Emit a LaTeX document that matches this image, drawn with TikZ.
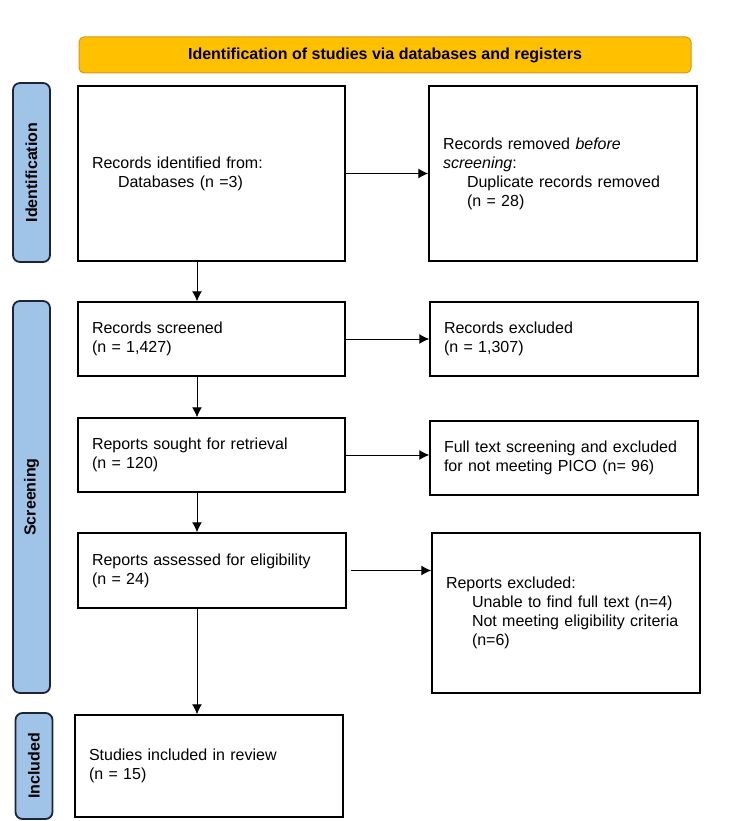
\documentclass[tikz,border=0pt]{standalone}
\usepackage{fontspec}
\setmainfont{Liberation Sans}
\usetikzlibrary{arrows.meta}

\newlength{\du}
\setlength{\du}{1pt}

\definecolor{bannerfill}{RGB}{255,192,0}
\definecolor{bannerline}{RGB}{214,152,24}
\definecolor{phasefill}{RGB}{160,196,232}
\definecolor{phaseline}{RGB}{28,36,56}

\tikzset{
  stage/.style 2 args={draw=black, line width=1.5pt, fill=white,
    minimum width=#1, minimum height=#2, text width=#1-28pt,
    inner xsep=14pt, inner ysep=0pt, align=left,
    font=\fontsize{16}{19}\selectfont},
  phase/.style={draw=phaseline, line width=1.8pt, fill=phasefill,
    rounded corners=7pt, rotate=90, minimum height=37pt, inner sep=0pt,
    font=\fontsize{16}{19}\selectfont\bfseries},
  flow/.style={-{Latex[length=10pt,width=10pt]}, line width=1pt}
}

\begin{document}
\begin{tikzpicture}[yscale=-1]
\useasboundingbox (0\du,0\du) rectangle (750\du,821\du);

% header
\node[draw=bannerline, line width=1pt, fill=bannerfill, rounded corners=5pt,
  minimum width=612pt, minimum height=36pt,
  font=\fontsize{16}{19}\selectfont\bfseries] (header) at (385\du,55\du)
  {Identification of studies via databases and registers};

% phases on the left
\node[phase, minimum width=179pt] (phaseid) at (31.5\du,172.5\du) {Identification};
\node[phase, minimum width=392pt] (phasescr) at (31.5\du,497\du) {Screening};
\node[phase, minimum width=106pt] (phaseinc) at (34\du,766\du) {Included};

% main column
\node[stage={267pt}{175pt}] (idfound) at (211.5\du,173.5\du)
  {Records identified from:\\\hspace*{26pt}Databases (n =3)};
\node[stage={267pt}{74pt}] (screened) at (211.5\du,339\du)
  {Records screened\\(n = 1,427)};
\node[stage={267pt}{74pt}] (sought) at (211.5\du,455\du)
  {Reports sought for retrieval\\(n = 120)};
\node[stage={268pt}{75pt}] (assessed) at (212\du,570.5\du)
  {Reports assessed for eligibility\\(n = 24)};
\node[stage={268pt}{102pt}] (included) at (209\du,766\du)
  {Studies included in review\\(n = 15)};

% side column
\node[stage={268pt}{175pt}] (removed) at (563\du,173.5\du)
  {Records removed \textit{before}\\\textit{screening}:\\
   \hspace*{24pt}Duplicate records removed\\\hspace*{24pt}(n = 28)};
\node[stage={268pt}{74pt}] (excluded) at (564\du,339\du)
  {Records excluded\\(n = 1,307)};
\node[stage={268pt}{74pt}] (fulltext) at (564\du,458\du)
  {Full text screening and excluded\\for not meeting PICO (n= 96)};
\node[stage={268pt}{160pt}] (reportsout) at (566\du,613\du)
  {Reports excluded:\\\hspace*{26pt}Unable to find full text (n=4)\\
   \hspace*{26pt}Not meeting eligibility criteria\\\hspace*{26pt}(n=6)};

% connectors
\coordinate (trunk) at (197\du,0\du);
\draw[flow] (idfound.south -| trunk) -- (screened.north -| trunk);
\draw[flow] (screened.south -| trunk) -- (sought.north -| trunk);
\draw[flow] (sought.south -| trunk) -- (assessed.north -| trunk);
\draw[flow] (assessed.south -| trunk) -- (included.north -| trunk);

\draw[flow] (idfound.east) -- (removed.west);
\draw[flow] (screened.east) -- (screened.east -| excluded.west);
\draw[flow] (sought.east) -- (sought.east -| fulltext.west);
\draw[flow] ([xshift=4pt]assessed.east) -- (assessed.east -| reportsout.west);
\end{tikzpicture}
\end{document}
